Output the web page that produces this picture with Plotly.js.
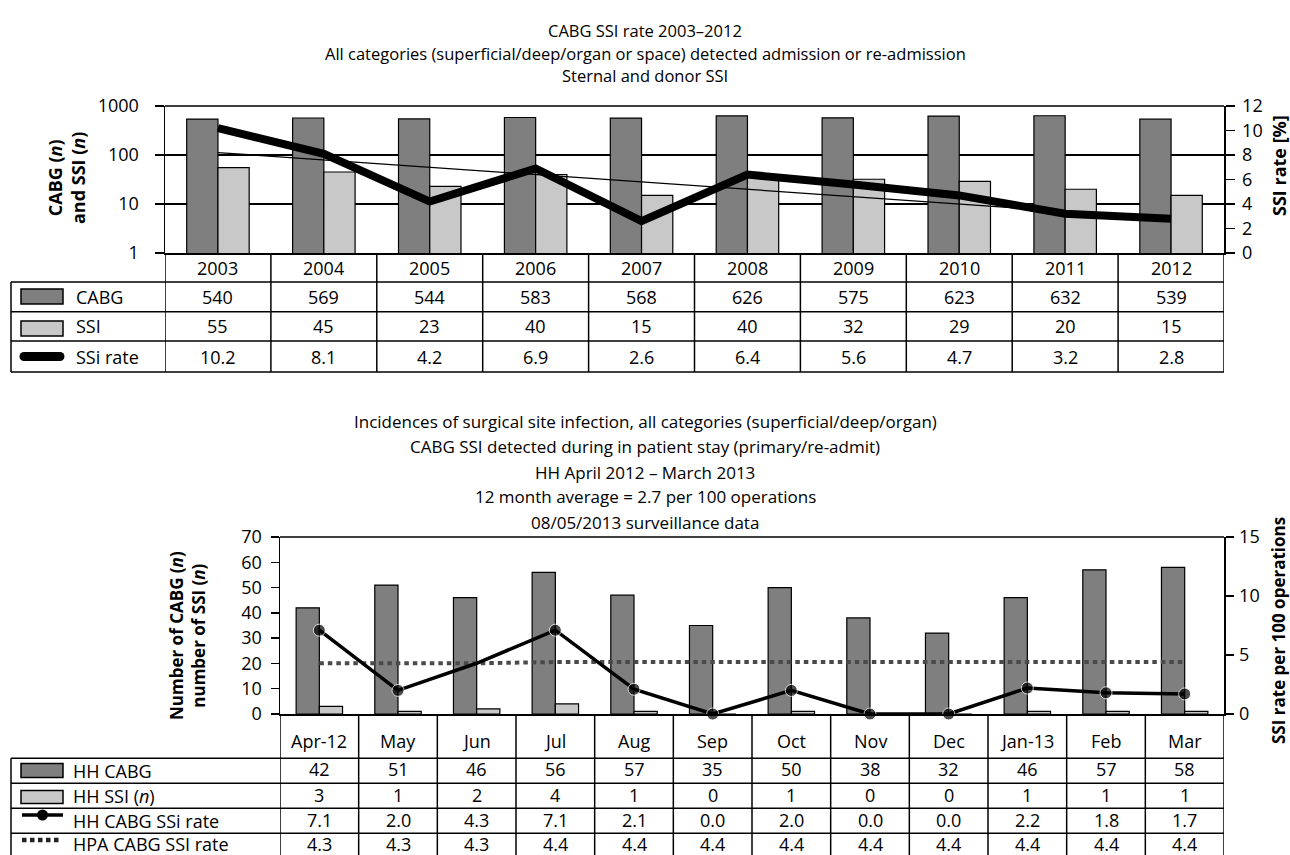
<!DOCTYPE html>
<html><head><meta charset="utf-8">
<script src="https://cdn.plot.ly/plotly-3.0.1.min.js"></script>
<style>html,body{margin:0;padding:0;background:#fff}</style>
</head><body>
<div id="chart" style="width:1290px;height:855px"></div>
<script>
// ---------------- data ----------------
const years = ['2003','2004','2005','2006','2007','2008','2009','2010','2011','2012'];
const cabgN = [540,569,544,583,568,626,575,623,632,539];
const ssiN = [55,45,23,40,15,40,32,29,20,15];
const ssiRate = [10.2,8.1,4.2,6.9,2.6,6.4,5.6,4.7,3.2,2.8];
const trendYears = ['2003','2012'];
const trendRate = [8.2,2.8];
const topRowLabels = ['CABG','SSI','SSi rate'];
const topTitleLines = ['CABG SSI rate 2003–2012',
  'All categories (superficial/deep/organ or space) detected admission or re-admission',
  'Sternal and donor SSI'];

const months = ['Apr-12','May','Jun','Jul','Aug','Sep','Oct','Nov','Dec','Jan-13','Feb','Mar'];
const hhCabgBar = [42,51,46,56,47,35,50,38,32,46,57,58];
const hhCabgTable = [42,51,46,56,57,35,50,38,32,46,57,58];
const hhSsi = [3,1,2,4,1,0,1,0,0,1,1,1];
const hhRate = [7.1,2.0,4.3,7.1,2.1,0.0,2.0,0.0,0.0,2.2,1.8,1.7];
const hpaRate = [4.3,4.3,4.3,4.4,4.4,4.4,4.4,4.4,4.4,4.4,4.4,4.4];
const bottomRowLabels = ['HH CABG','HH SSI (<i>n</i>)','HH CABG SSi rate','HPA CABG SSI rate'];
const bottomTitleLines = ['Incidences of surgical site infection, all categories (superficial/deep/organ)',
  'CABG SSI detected during in patient stay (primary/re-admit)',
  'HH April 2012 – March 2013',
  '12 month average = 2.7 per 100 operations',
  '08/05/2013 surveillance data'];

// ---------------- helpers ----------------
const W = 1290, H = 855;
const px = x => x / W;
const py = y => 1 - y / H;
const DARK = '#7f7f7f', LIGHT = '#c8c8c8', LW = 1.5;
const FONT = 'Open Sans, sans-serif';
const shapes = [];
const ann = [];
function hline(x0, x1, y, w) {
  shapes.push({type:'line', xref:'paper', yref:'paper', x0:px(x0), x1:px(x1), y0:py(y), y1:py(y), line:{color:'#000', width:w||LW}});
}
function vlinePaper(x, y0, y1) {
  shapes.push({type:'line', xref:'paper', yref:'paper', x0:px(x), x1:px(x), y0:py(y0), y1:py(y1), line:{color:'#000', width:LW}});
}
function vlineAxis(xref, xv, y0, y1) {
  shapes.push({type:'line', xref:xref, yref:'paper', x0:xv, x1:xv, y0:py(y0), y1:py(y1), line:{color:'#000', width:LW}});
}
function rectP(x0, x1, y0, y1, fill) {
  shapes.push({type:'rect', xref:'paper', yref:'paper', x0:px(x0), x1:px(x1), y0:py(y1), y1:py(y0), fillcolor:fill, line:{color:'#000', width:LW}});
}
function text(xref, x, y, t, opts) {
  ann.push(Object.assign({xref:xref, yref:'paper', x:x, y:py(y), text:t, showarrow:false,
    xanchor:'center', yanchor:'middle', font:{size:18, family:FONT, color:'#000'}}, opts||{}));
}

// ---------------- top chart table ----------------
hline(165, 1224, 106);                       // top border
const topRowsY = [282, 311.7, 341, 372];
topRowsY.forEach(y => hline(11, 1224, y));
vlinePaper(11, 282, 372);
for (let i = 0; i <= years.length; i++) vlineAxis('x', i - 0.5, 253, 372);
// category index positions (year strings would be read as numbers)
years.forEach((yr, i) => {
  text('x', i, 268, yr);
  text('x', i, 296.5, String(cabgN[i]));
  text('x', i, 326.5, String(ssiN[i]));
  text('x', i, 356.5, ssiRate[i].toFixed(1));
});
// legend symbols (top)
rectP(21, 63, 289, 304, DARK);
rectP(21, 63, 321, 336, LIGHT);
shapes.push({type:'line', xref:'paper', yref:'paper', x0:px(24), x1:px(60), y0:py(356.5), y1:py(356.5), line:{color:'#000', width:9}});
shapes.push({type:'circle', xref:'paper', yref:'paper', x0:px(19.5), x1:px(28.5), y0:py(361), y1:py(352), fillcolor:'#000', line:{width:0}});
shapes.push({type:'circle', xref:'paper', yref:'paper', x0:px(55.5), x1:px(64.5), y0:py(361), y1:py(352), fillcolor:'#000', line:{width:0}});
[296.5, 326.5, 356.5].forEach((y, k) => text('paper', px(74), y, topRowLabels[k], {xanchor:'left'}));

// top titles
[31, 53, 75].forEach((y, k) => text('paper', px(645), y, topTitleLines[k], {font:{size:16.5, family:FONT, color:'#000'}}));
// axis titles (top)
text('paper', px(66), 178, '<b>CABG (<i>n</i>)<br>and SSI (<i>n</i>)</b>', {textangle:-90, font:{size:18, family:FONT, color:'#000'}});
text('paper', px(1279), 166, '<b>SSI rate [%]</b>', {textangle:-90, font:{size:18, family:FONT, color:'#000'}});

// ---------------- bottom chart table ----------------
hline(280, 1224, 537);                       // top border
const botRowsY = [758.3, 783.3, 808.3, 833.3];
botRowsY.forEach(y => hline(11, 1224, y));
vlinePaper(11, 758.3, 870);
for (let i = 0; i <= months.length; i++) vlineAxis('x2', i - 0.5, 714, 870);
months.forEach((m, i) => {
  text('x2', i, 741, m);
  text('x2', i, 769, String(hhCabgTable[i]));
  text('x2', i, 795, String(hhSsi[i]));
  text('x2', i, 820, hhRate[i].toFixed(1));
  text('x2', i, 843.5, hpaRate[i].toFixed(1));
});
// legend symbols (bottom)
rectP(21, 63, 763.5, 777.5, DARK);
rectP(21, 63, 790.5, 803.5, LIGHT);
shapes.push({type:'line', xref:'paper', yref:'paper', x0:px(22), x1:px(63), y0:py(815), y1:py(815), line:{color:'#000', width:3.5}});
shapes.push({type:'circle', xref:'paper', yref:'paper', x0:px(37), x1:px(48), y0:py(820.5), y1:py(809.5), fillcolor:'#000', line:{width:0}});
shapes.push({type:'line', xref:'paper', yref:'paper', x0:px(22), x1:px(61), y0:py(840), y1:py(840), line:{color:'#222', width:4.5, dash:'4.5px,3.5px'}});
[771, 796, 820.5, 843.5].forEach((y, k) => text('paper', px(71), y, bottomRowLabels[k], {xanchor:'left'}));

// bottom titles
[421, 446, 472, 497, 522].forEach((y, k) => text('paper', px(645), y, bottomTitleLines[k], {font:{size:17, family:FONT, color:'#000'}}));
// axis titles (bottom)
text('paper', px(187), 636, '<b>Number of CABG (<i>n</i>)<br>number of SSI (<i>n</i>)</b>', {textangle:-90, font:{size:17, family:FONT, color:'#000'}});
text('paper', px(1278), 631, '<b>SSI rate per 100 operations</b>', {textangle:-90, font:{size:17, family:FONT, color:'#000'}});

// ---------------- traces ----------------
const barLine = {color:'#000', width:1.2};
const traces = [
  {type:'bar', x:years, y:cabgN, xaxis:'x', yaxis:'y', name:'CABG', marker:{color:DARK, line:barLine}},
  {type:'bar', x:years, y:ssiN, xaxis:'x', yaxis:'y', name:'SSI', marker:{color:LIGHT, line:barLine}},
  {type:'scatter', mode:'lines', x:trendYears, y:trendRate, xaxis:'x', yaxis:'y2', name:'trend', line:{color:'#000', width:1.2}},
  {type:'scatter', mode:'lines', x:years, y:ssiRate, xaxis:'x', yaxis:'y2', name:'SSi rate', line:{color:'#000', width:8}},

  {type:'bar', x:months, y:hhCabgBar, xaxis:'x2', yaxis:'y3', name:'HH CABG', marker:{color:DARK, line:barLine}},
  {type:'bar', x:months, y:hhSsi, xaxis:'x2', yaxis:'y3', name:'HH SSI (n)', marker:{color:LIGHT, line:barLine}},
  {type:'scatter', mode:'lines', x:months, y:hpaRate, xaxis:'x2', yaxis:'y4', name:'HPA CABG SSI rate', line:{color:'#4a4a4a', width:4, dash:'4.5px,4px'}},
  {type:'scatter', mode:'lines+markers', x:months, y:hhRate, xaxis:'x2', yaxis:'y4', name:'HH CABG SSi rate', cliponaxis:false,
    line:{color:'#000', width:3.5}, marker:{color:'#000', size:months.map(m => m === 'Jun' ? 0 : 12)}}
];

const tickFont = {size:18, family:FONT, color:'#000'};
const layout = {
  width: W, height: H,
  margin: {l:0, r:0, t:0, b:0},
  paper_bgcolor: '#fff', plot_bgcolor: 'rgba(0,0,0,0)',
  font: {family: FONT, size: 18, color: '#000'},
  showlegend: false, hovermode: false,
  barmode: 'group', bargap: 0.41, bargroupgap: 0,
  xaxis: {domain:[px(165), px(1224)], anchor:'y', type:'category', range:[-0.5, years.length - 0.5],
    showticklabels:false, ticks:'', showline:true, linecolor:'#000', linewidth:LW, showgrid:false, zeroline:false},
  yaxis: {domain:[py(253), py(106)], anchor:'x', type:'log', range:[0, 3], tickvals:[1,10,100,1000], ticktext:['1','10','100','1000'],
    ticks:'outside', ticklen:9, tickwidth:LW, tickcolor:'#000', ticklabelstandoff:12, tickfont:tickFont,
    showline:true, linecolor:'#000', linewidth:LW, showgrid:true, gridcolor:'#000', gridwidth:1.2, zeroline:false},
  yaxis2: {overlaying:'y', anchor:'x', side:'right', range:[0, 12], dtick:2, ticks:'outside', ticklen:9, tickwidth:LW, tickcolor:'#000',
    ticklabelstandoff:4, tickfont:tickFont, showline:true, linecolor:'#000', linewidth:LW, showgrid:false, zeroline:false},
  xaxis2: {domain:[px(280), px(1224)], anchor:'y3', type:'category', range:[-0.5, months.length - 0.5],
    showticklabels:false, ticks:'', showline:true, linecolor:'#000', linewidth:LW, showgrid:false, zeroline:false},
  yaxis3: {domain:[py(714), py(537)], anchor:'x2', range:[0, 70], dtick:10, ticks:'outside', ticklen:8, tickwidth:LW, tickcolor:'#000',
    ticklabelstandoff:5, tickfont:tickFont, showline:true, linecolor:'#000', linewidth:LW, showgrid:false, zeroline:false},
  yaxis4: {overlaying:'y3', anchor:'x2', side:'right', range:[0, 15], dtick:5, ticks:'outside', ticklen:8, tickwidth:LW, tickcolor:'#000',
    ticklabelstandoff:2, tickfont:tickFont, showline:true, linecolor:'#000', linewidth:LW, showgrid:false, zeroline:false},
  shapes: shapes,
  annotations: ann
};

Plotly.newPlot('chart', traces, layout, {staticPlot:true, displayModeBar:false});
</script>
</body></html>
